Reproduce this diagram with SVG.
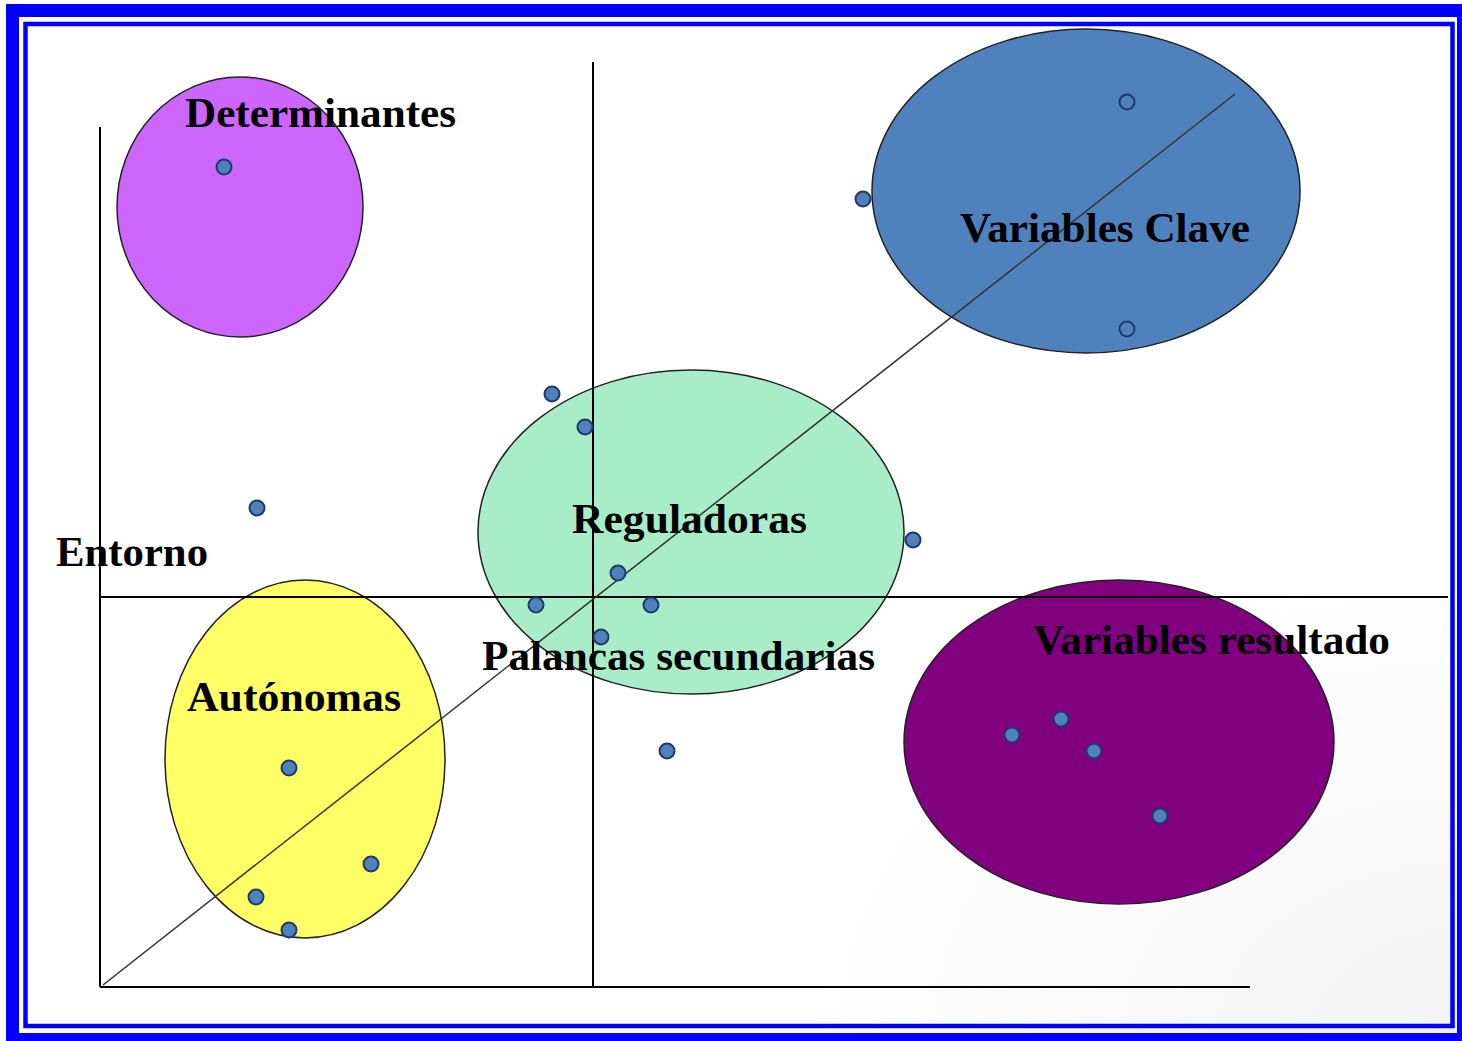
<svg xmlns="http://www.w3.org/2000/svg" width="1462" height="1041" viewBox="0 0 1462 1041">
<style>
.lbl{font-family:"Liberation Serif","Times New Roman",serif;font-weight:bold;font-size:42px;fill:#000}
.ax{stroke:#000;stroke-width:2;fill:none}
.ell{stroke:#222;stroke-width:1.5}
.dot{fill:#4F81BD;stroke:#1F3A66;stroke-width:2}
</style>
<defs>
<radialGradient id="bg" cx="1" cy="1" r="0.45">
<stop offset="0" stop-color="#f3f3f3"/>
<stop offset="1" stop-color="#ffffff"/>
</radialGradient>
</defs>
<rect x="0" y="0" width="1462" height="1041" fill="#fff"/>
<rect x="6" y="4" width="1456" height="1037" fill="#0000FF"/>
<rect x="19" y="17" width="1438" height="1016" fill="#fff"/>
<rect x="19" y="17" width="1438" height="1016" fill="url(#bg)"/>
<rect x="25.5" y="24" width="1427" height="1002" fill="none" stroke="#0000FF" stroke-width="4.5"/>

<g id="determinantes">
<ellipse class="ell" cx="240" cy="207" rx="123" ry="130" fill="#CC66FF"/>
</g>
<g id="variables-clave">
<ellipse class="ell" cx="1086" cy="191" rx="214" ry="162" fill="#4F81BD"/>
</g>
<g id="reguladoras">
<ellipse class="ell" cx="691" cy="532" rx="213" ry="162" fill="#A8EDC8"/>
</g>
<g id="autonomas">
<ellipse class="ell" cx="305" cy="759" rx="140" ry="179" fill="#FFFF66"/>
</g>
<g id="variables-resultado">
<ellipse class="ell" cx="1119" cy="742" rx="215" ry="162" fill="#800080"/>
</g>

<g id="connectors">
<line class="ax" x1="100" y1="127" x2="100" y2="987"/>
<line class="ax" x1="100" y1="987" x2="1250" y2="987"/>
<line class="ax" x1="593" y1="62" x2="593" y2="987"/>
<line class="ax" x1="100" y1="597" x2="1448" y2="597"/>
<line x1="103" y1="985" x2="1235" y2="94" stroke="#333" stroke-width="1.5"/>
</g>

<g id="dots">
<circle class="dot" cx="224" cy="167" r="7.5"/>
<circle class="dot" cx="863" cy="199" r="7.5"/>
<circle class="dot" cx="1127" cy="102" r="7.5"/>
<circle class="dot" cx="1127" cy="329" r="7.5"/>
<circle class="dot" cx="552" cy="394" r="7.5"/>
<circle class="dot" cx="585" cy="427" r="7.5"/>
<circle class="dot" cx="257" cy="508" r="7.5"/>
<circle class="dot" cx="913" cy="540" r="7.5"/>
<circle class="dot" cx="618" cy="573" r="7.5"/>
<circle class="dot" cx="536" cy="605" r="7.5"/>
<circle class="dot" cx="651" cy="605" r="7.5"/>
<circle class="dot" cx="601" cy="637" r="7.5"/>
<circle class="dot" cx="667" cy="751" r="7.5"/>
<circle class="dot" cx="289" cy="768" r="7.5"/>
<circle class="dot" cx="371" cy="864" r="7.5"/>
<circle class="dot" cx="256" cy="897" r="7.5"/>
<circle class="dot" cx="289" cy="930" r="7.5"/>
<circle class="dot" cx="1012" cy="735" r="7.5"/>
<circle class="dot" cx="1061" cy="719" r="7.5"/>
<circle class="dot" cx="1094" cy="751" r="7.5"/>
<circle class="dot" cx="1160" cy="816" r="7.5"/>
</g>

<g id="labels">
<text class="lbl" x="185" y="127" textLength="271" lengthAdjust="spacingAndGlyphs">Determinantes</text>
<text class="lbl" x="960" y="242" textLength="290" lengthAdjust="spacingAndGlyphs">Variables Clave</text>
<text class="lbl" x="572" y="533" textLength="235" lengthAdjust="spacingAndGlyphs">Reguladoras</text>
<text class="lbl" x="56" y="566" textLength="152" lengthAdjust="spacingAndGlyphs">Entorno</text>
<text class="lbl" x="482" y="670" textLength="393" lengthAdjust="spacingAndGlyphs">Palancas secundarias</text>
<text class="lbl" x="187" y="711" textLength="214" lengthAdjust="spacingAndGlyphs">Autónomas</text>
<text class="lbl" x="1033" y="654" textLength="357" lengthAdjust="spacingAndGlyphs">Variables resultado</text>
</g>
</svg>
